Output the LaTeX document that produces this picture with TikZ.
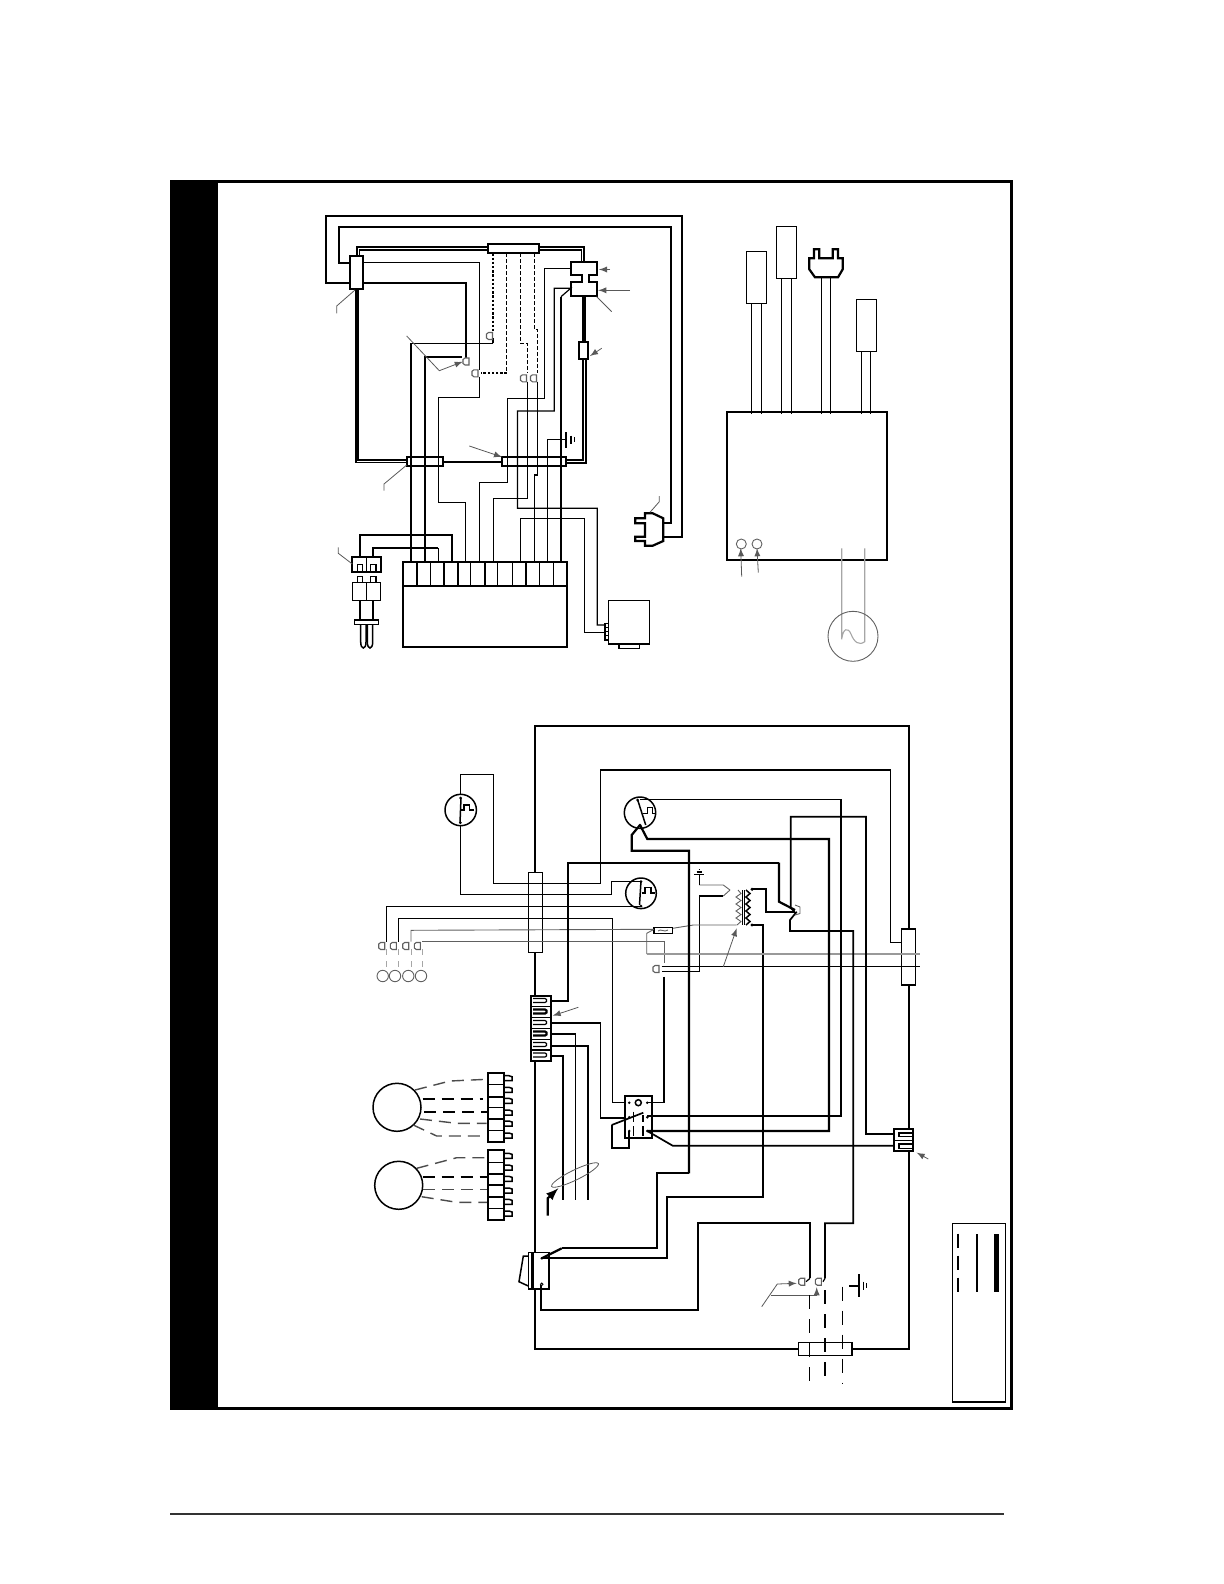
\documentclass[tikz,border=0pt]{standalone}
\usepackage{tikz}

\tikzset{
  wire/.style={line width=0.6pt},
  mwire/.style={line width=0.85pt},
  hwire/.style={line width=1.1pt},
  gwire/.style={line width=0.45pt, gray!75!black},
  lead/.style={line width=0.4pt, gray!70!black},
  dotwire/.style={line width=1.1pt, dash pattern=on 1.2pt off 0.9pt},
  thindash/.style={line width=0.6pt, dash pattern=on 1.8pt off 1.2pt},
  motordash/.style={line width=0.7pt, gray!60!black, dash pattern=on 6pt off 3.5pt},
  motorheavy/.style={line width=1.1pt, dash pattern=on 6pt off 3.5pt},
  longdash/.style={line width=0.75pt, dash pattern=on 7pt off 5pt},
  part/.style={line width=0.75pt},
  hpart/.style={line width=1.1pt}
}
\newcommand{\plugterm}[2]{\draw[gwire, line width=0.55pt] (#1+3,#2-3.5) -- (#1-1,#2-3.5) -- (#1-3,#2-2) -- (#1-3,#2+2) -- (#1-1,#2+3.5) -- (#1+3,#2+3.5) -- cycle;}
\newcommand{\slotcell}[2]{\draw[line width=#2] (533,#1) -- (545,#1) -- (546.5,#1+1) -- (546.5,#1+3) -- (545,#1+4) -- (533,#1+4);}
\newcommand{\tabcell}[1]{\draw[part] (504,#1-3) -- (509,#1-3) -- (512,#1-2) -- (512,#1+2) -- (504,#1+2);}

\begin{document}
\begin{tikzpicture}[x=0.5pt, y=-0.5pt]
\useasboundingbox (0,0) rectangle (1224,1584);

% Page frame and black side band
\fill (170,180) rectangle (217.7,1410);
\draw[line width=1.2pt] (217,181.5) -- (1011.5,181.5) -- (1011.5,1408.5) -- (170,1408.5);
\draw[line width=0.7pt, black!80] (170,1514) -- (1004,1514);

% Pictorial: outer loop to plug
\draw[mwire] (350,282.7) -- (326.3,282.7) -- (326.3,216) -- (682.3,216) -- (682.3,536.7) -- (663.3,536.7);
\draw[mwire] (350,262.7) -- (339.3,262.7) -- (339.3,227.3) -- (671,227.3) -- (671,522.7) -- (663.3,522.7);
\draw[hpart] (645,513.3) -- (652.7,513.3) -- (663.3,518.3) -- (663.3,541) -- (652.7,545.7) -- (645,545.7) -- (645,541) -- (635.3,541) -- (635.3,536.7) -- (645,536.7) -- (645,523.3) -- (635.3,523.3) -- (635.3,518.3) -- (645,518.3) -- cycle;
\draw[lead] (659.3,496) -- (659.3,501.7) -- (650,512.3);

% Pictorial: double loop round the cabinet
\draw[hwire] (356.7,255.7) -- (356.7,246.7) -- (488.3,246.7);
\draw[mwire] (359.5,255.7) -- (359.5,250) -- (488.3,250);
\draw[hwire] (538.7,246.7) -- (584,246.7) -- (584,261.7);
\draw[mwire] (538.7,250) -- (581.5,250) -- (581.5,261.7);
\draw[wire] (356,289.3) -- (356,462.7) -- (406.7,462.7);
\draw[hwire] (357.5,289.3) -- (357.5,460) -- (406.7,460);
\draw[hwire] (443.3,462.3) -- (502,462.3);
\draw[wire] (583,296) -- (583,341.7);
\draw[mwire] (585,296) -- (585,341.7);
\draw[wire] (583,359) -- (583,460) -- (566,460);
\draw[hwire] (586,359) -- (586,463.3) -- (566,463.3);

% Pictorial: plug boxes
\draw[hpart] (350,255.7) rectangle (363.3,289.3);
\draw[hpart, fill=white] (488.3,243.7) rectangle (538.7,253);
\draw[hpart] (406.7,457) rectangle (443.3,466);
\draw[hpart] (502,457) rectangle (566,466);
\draw[hpart] (578.7,341.7) rectangle (588.3,359);
\draw[hpart] (570.7,261.7) -- (597.3,261.7) -- (597.3,275.3) -- (588.7,275.3) -- (588.7,281.7) -- (596.7,281.7) -- (596.7,296) -- (570.7,296) -- (570.7,281.7) -- (581.7,281.7) -- (581.7,275.3) -- (570.7,275.3) -- cycle;

% Pictorial: wires on the panel
\draw[wire] (363.3,262.3) -- (479.3,262.3) -- (479.3,370);
\draw[hwire] (363.3,282.7) -- (465.7,282.7) -- (465.7,358);
\draw[hwire] (461.7,356.7) -- (425,356.7) -- (425,561.7);
\draw[hwire] (493.3,338) -- (493.3,343.3);
\draw[wire] (493.3,343.3) -- (411,343.3);
\draw[hwire] (411,343.3) -- (411,561.7);
\draw[wire] (479.3,376.7) -- (479.3,397.7) -- (438.5,397.7) -- (438.5,502.3) -- (465.7,502.3) -- (465.7,561.7);
\draw[dotwire] (493,253.3) -- (493,331.7);
\draw[thindash] (506.7,253.3) -- (506.7,373);
\draw[dotwire] (506.7,373) -- (481,373);
\draw[thindash] (520.3,253.3) -- (520.3,343.3) -- (527.7,343.3) -- (527.7,373.3);
\draw[thindash] (534.3,253.3) -- (534.3,329.3) -- (537.5,329.3) -- (537.5,373.3);
\draw[wire] (570.7,268.3) -- (544.3,268.3) -- (544.3,398.3) -- (507.5,398.3) -- (507.5,482.3) -- (479.3,482.3) -- (479.3,561.7);
\draw[wire] (561,296.7) -- (570.7,288.3) -- (554.3,288.3) -- (554.3,411) -- (517.5,411) -- (517.5,508.3) -- (597.3,508.3) -- (597.3,625) -- (605,625);
\draw[wire] (561,296.7) -- (561,561.7);
\draw[wire] (527.7,381.7) -- (527.7,498.3) -- (493.3,498.3) -- (493.3,561.7);
\draw[wire] (537.5,381.7) -- (537.5,475) -- (534.3,475) -- (534.3,561.7);
\draw[wire] (566,439.3) -- (547.3,439.3) -- (547.3,561.7);
\draw[wire] (566,432.3) -- (566,448.3);
\draw[wire] (571,435.7) -- (571,444.3);
\draw[wire] (574.3,437.3) -- (574.3,441.7);
\plugterm{489.5}{336}
\plugterm{466}{361.5}
\plugterm{475}{373.3}
\plugterm{523.5}{378.3}
\plugterm{533.5}{378.3}

% Pictorial: labels leaders
\draw[lead] (355,290) -- (336.7,306) -- (336.7,313.3);
\draw[lead, -latex] (406.7,336) -- (439.3,370.7) -- (462.7,361.7);
\draw[lead, -latex] (469.3,446) -- (502,457);
\draw[lead] (406.7,465) -- (384,484) -- (384,490.7);
\draw[lead, -latex] (610,269.5) -- (599,269.5);
\draw[lead, -latex] (630,290.3) -- (598.3,290.3);
\draw[lead] (596.7,296.7) -- (611.7,311.7);
\draw[lead, -latex] (601.7,348.3) -- (590,356);

% Pictorial: control board
\draw[hpart] (402.7,561.7) rectangle (567.3,646.7);
\draw[hpart] (402.7,585.7) -- (567.3,585.7);
\foreach \px in {416.7,444.3,458,485.3,526.3} \draw[hpart] (\px,561.7) -- (\px,585.7);
\foreach \px in {430.3,470.7,497.7,512.7,539.3,553.3} \draw[part] (\px,561.7) -- (\px,585.7);

% Pictorial: power cord
\draw[mwire] (360,557.3) -- (360,535) -- (452.3,535) -- (452.3,561.7);
\draw[hwire] (373.3,557.3) -- (373.3,548.3) -- (438.3,548.3);
\draw[wire] (438.3,548.3) -- (438.3,561.7);
\draw[hpart] (352.3,557.3) rectangle (380.7,572);
\draw[part] (366.7,557.3) -- (366.7,572);
\draw[part] (357.3,572) -- (357.3,564.7) -- (362.7,564.7) -- (362.7,572);
\draw[part] (370.7,572) -- (370.7,564.7) -- (376,564.7) -- (376,572);
\draw[part] (352.3,582.7) rectangle (380.7,600.7);
\draw[part] (366.7,582.7) -- (366.7,600.7);
\draw[part] (357.3,582.7) -- (357.3,576.7) -- (362.7,576.7) -- (362.7,582.7);
\draw[part] (370.7,582.7) -- (370.7,576.7) -- (376,576.7) -- (376,582.7);
\draw[mwire] (360,600.7) -- (360,620);
\draw[mwire] (373.3,600.7) -- (373.3,620);
\draw[part] (354.3,620) rectangle (378.3,624.3);
\draw[part] (360.7,624.3) -- (360.7,642) .. controls (360.7,650) and (366,650) .. (366,642) -- (366,624.3);
\draw[part] (367.3,624.3) -- (367.3,642) .. controls (367.3,650) and (372.7,650) .. (372.7,642) -- (372.7,624.3);
\draw[lead] (338.3,547.3) -- (338.3,553.3) -- (352.3,564);

% Pictorial: blower motor
\draw[wire] (520.7,561.7) -- (520.7,518.3) -- (584.3,518.3) -- (584.3,632.7) -- (605,632.7);
\draw[part] (608.3,600.7) rectangle (649.3,644);
\draw[part] (619,644) rectangle (639.3,648.3);
\draw[part] (605,623.3) rectangle (608.3,640);
\foreach \py in {627,631,635} \draw[line width=0.4pt] (605,\py) -- (608.3,\py);

% Ladder key: leads and boxes
\draw[part] (746.3,251.3) rectangle (766.3,303.3);
\draw[part] (776.3,226.3) rectangle (796.3,278.3);
\draw[part] (856.3,299.3) rectangle (876.3,351.3);
\draw[hpart] (814,249.3) -- (814,258.3) -- (809.3,258.3) -- (809.3,269.3) -- (815,277.3) -- (838,277.3) -- (842.7,269.3) -- (842.7,258.3) -- (838,258.3) -- (838,249.3) -- (832.7,249.3) -- (832.7,258.3) -- (819.3,258.3) -- (819.3,249.3) -- cycle;
\foreach \px/\py in {751.3/303.3,761.3/303.3,781.3/278.3,791.3/278.3,821.3/277.3,830.3/277.3,861.7/351.3,870.3/351.3}
  \draw[wire] (\px,\py) -- (\px,414);
\draw[hpart] (726.7,411.7) rectangle (887,560);
\draw[gwire] (741.3,544) circle (5);
\draw[gwire] (757,544) circle (5);
\draw[lead, -latex] (741.7,576.7) -- (740.7,548.3);
\draw[lead, -latex] (758.3,572.7) -- (757,548.3);
\draw[line width=0.55pt, gray!70] (841.7,548.3) -- (841.7,639.3) .. controls (843,628) and (848,627) .. (851,634) .. controls (854,642) and (859,646) .. (864.7,641.7) -- (864.7,548.3);
\draw[gwire] (853,636.3) circle (25);

% Ladder: outer power loop
\draw[hwire] (535,872.3) -- (535,726) -- (909,726) -- (909,929);
\draw[hwire] (909,985) -- (909,1129.3);
\draw[hwire] (909,1151) -- (909,1349) -- (852,1349);
\draw[hwire] (535,952.3) -- (535,995.7);
\draw[mwire] (535,1061) -- (535,1252);
\draw[mwire] (535,1289) -- (535,1349.3) -- (798.3,1349.3);
\draw[part] (528.3,872.3) rectangle (542.7,952.3);
\draw[part] (901.7,929) rectangle (915.7,985);
\draw[part] (798.3,1342.3) rectangle (852,1355.7);

% Ladder: pressure switches
\draw[wire] (901.7,942.3) -- (890.7,942.3) -- (890.7,770) -- (600.3,770) -- (600.3,883.3) -- (493.7,883.3) -- (493.7,774.3) -- (460.7,774.3) -- (460.7,795);
\draw[wire] (460.7,825) -- (460.7,894.3) -- (611.7,894.3) -- (611.7,881.7) -- (641,881.7);
\draw[part] (460.7,810) circle (15.7);
\draw[part] (461,798) -- (460,823);
\draw[part] (461,810) -- (464,810) -- (464,805) -- (469.3,805) -- (469.3,810) -- (474,810);
\fill (460.7,798) circle (1.5);
\fill (460.3,822.7) circle (1.5);
\draw[part] (640,812.7) circle (15.7);
\draw[part] (637.7,800) -- (645.7,825);
\draw[part] (643.3,813.3) -- (647.7,813.3) -- (647.7,807.3) -- (652.7,807.3) -- (652.7,813.3) -- (655,813.3);
\fill (637.7,800) circle (1.5);
\fill (640,825) circle (1.5);
\draw[part] (641,893.3) circle (15.3);
\draw[part] (641,881) -- (639.5,905);
\draw[part] (642,893) -- (645,893) -- (645,887.5) -- (651,887.5) -- (651,893) -- (655,893);
\fill (641,881.7) circle (1.5);
\fill (641,906) circle (1.5);

% Ladder: limit controls and wires to the terminals
\draw[wire] (641,906.5) -- (386.3,906.5) -- (386.3,941.7);
\draw[wire] (398.7,941.7) -- (398.7,918.3) -- (612.7,918.3) -- (612.7,1102.7) -- (625,1102.7);
\draw[gwire] (411,941.7) -- (411,930.3) -- (654,929.3);
\draw[gwire] (422.3,941.7) -- (664,941.7) -- (664,963.3);
\foreach \px/\qx in {381.7/386.3,393.3/398.7,405.7/411,417.3/422.3} {
  \plugterm{\px}{946}
  \draw[gray!70, line width=0.5pt, dashed] (\qx,949) -- (\qx,970);
}
\draw[gwire] (382.7,976) circle (5.7);
\draw[gwire] (395,976) circle (5.7);
\draw[gwire] (408.3,976) circle (5.7);
\draw[gwire] (421,976) circle (5.7);

% Ladder: transformer
\draw[part] (742.3,890) -- (742.3,925);
\draw[part] (744.7,890) -- (744.7,925);
\draw[part] (746,890) -- (750,893.5) -- (746,897) -- (750,900.5) -- (746,904) -- (750,907.5) -- (746,911) -- (750,914.5) -- (746,918) -- (750,921.5) -- (746,925);
\draw[gwire] (738,890) -- (741,893.5) -- (736,897) -- (741,900.5) -- (736,904) -- (741,907.5) -- (736,911) -- (741,914.5) -- (736,918) -- (741,921.5) -- (737,925);
\fill (752,889.3) circle (1.7);
\fill (752,925) circle (1.7);
\draw[hwire] (752,889.3) -- (766,889.3) -- (766,911.7) -- (795,911.7);
\draw[mwire] (752,925) -- (763.3,925) -- (763.3,1196.7) -- (666.7,1196.7) -- (666.7,1258.3) -- (541.7,1258.3);
\draw[gwire] (730,890) -- (723.3,885) -- (699.3,885);
\draw[wire] (699.3,885) -- (699.3,875);
\draw[wire] (694.3,874.3) -- (704,874.3);
\draw[wire] (696.7,872) -- (701.7,872);
\draw[wire] (698.7,869.7) -- (700,869.7);
\draw[gwire] (730,890) -- (723.3,896);
\draw[wire] (723.3,896) -- (699.3,896) -- (699.3,971.7) -- (662,971.7);
\draw[gwire] (736.7,925) -- (693.3,925) -- (672.7,928.3);
\draw[part] (654,927.3) rectangle (672.7,933.3);
\draw[gwire] (658,931) .. controls (661,928) and (664,933) .. (668,930);
\draw[gwire] (654,929.3) -- (646.7,933.3) -- (646.7,954);
\draw[line width=0.6pt, gray!80] (646.7,954) -- (920,954);
\draw[wire] (661.7,966.7) -- (920,966.7);
\draw[lead, -latex] (723.3,966.7) -- (736.7,928.3);
\plugterm{656}{969}
\draw[wire] (664,976.7) -- (664,1102.7) -- (647.3,1102.7);

% Ladder: high voltage wires
\draw[hwire] (551,1001) -- (567.7,1001) -- (567.7,862.7) -- (689,862.7);
\draw[mwire] (689,862.7) -- (779,862.7);
\draw[hwire] (779,862.7) -- (779,901.7) -- (795,910);
\draw[wire] (640,799.3) -- (841,799.3) -- (841,1116) -- (647.3,1116);
\draw[hwire] (640,825) -- (647.3,839) -- (829,839) -- (829,1131) -- (647.3,1131);
\draw[hwire] (640,825) -- (631.7,835) -- (631.7,850.7) -- (689,850.7) -- (689,1173.3);
\draw[mwire] (689,1173.3) -- (656.7,1173.3) -- (656.7,1248.3) -- (561.7,1248.3);
\draw[hwire] (561.7,1248.3) -- (541.7,1258.3);
\draw[mwire] (794,911) -- (790.7,908) -- (790.7,816.7) -- (866,816.7) -- (866,1134) -- (894,1134);
\draw[mwire] (796.7,911.7) -- (790,920) -- (790,931) -- (853.3,931) -- (853.3,1223.3) -- (825,1223.3) -- (825,1278.3);
\draw[gwire] (795,905) -- (800,907) -- (800,913.5) -- (795,915);

% Ladder: door switch relay
\draw[hpart] (625,1095.7) rectangle (652.3,1137.7);
\foreach \px in {629.3,647.3} {
  \fill (\px,1102.7) circle (1.4);
  \fill (\px,1117.3) circle (1.4);
  \fill (\px,1131) circle (1.4);
}
\draw[part] (638.3,1102.7) circle (3);
\draw[part] (633.3,1111.7) -- (633.3,1121.7);
\draw[hpart] (642.7,1115) -- (642.7,1121.7);
\draw[part] (633.3,1126) -- (633.3,1136);
\draw[hpart] (642.7,1126) -- (642.7,1136);
\draw[mwire] (611.7,1125) -- (643.3,1112.7);
\draw[hwire] (611.7,1125) -- (611.7,1148) -- (629.3,1148) -- (629.3,1131);
\draw[wire] (625,1118) -- (600.5,1118) -- (600.5,1022.7);
\draw[hwire] (600.5,1022.7) -- (550.7,1022.7);
\draw[mwire] (647.3,1131) -- (672.7,1145.7) -- (894,1145.7);

% Ladder: terminal strip
\draw[hpart] (531,995.7) rectangle (550.7,1061);
\slotcell{998.5}{0.6pt}
\slotcell{1009.5}{1.1pt}
\slotcell{1020.5}{0.6pt}
\slotcell{1031.5}{1.1pt}
\slotcell{1042.5}{0.6pt}
\slotcell{1053}{0.6pt}
\foreach \py in {1006.7,1017.7,1028.3,1039.3,1050} \draw[part] (531,\py) -- (550.7,\py);
\draw[wire] (550.7,1034) -- (575.7,1034) -- (575.7,1200);
\draw[hwire] (550.7,1045.7) -- (588.3,1045.7) -- (588.3,1200);
\draw[mwire] (550.7,1055.7) -- (563.3,1055.7) -- (563.3,1200);
\draw[lead] (575,1175) ellipse [x radius=26, y radius=5, rotate=26];
\draw[hwire, -latex] (547.7,1215.7) -- (547.7,1198.3) -- (558.3,1188.3);
\draw[lead, -latex] (578.3,1007.3) -- (552.7,1015.7);

% Ladder: right connector
\draw[hpart] (894,1129.3) rectangle (913.3,1151);
\draw[part] (894,1140.3) -- (913.3,1140.3);
\draw[part] (913.3,1133) -- (899,1133) -- (899,1136.7) -- (913.3,1136.7);
\draw[part] (913.3,1144) -- (899,1144) -- (899,1148.3) -- (913.3,1148.3);
\draw[lead, -latex] (928.3,1159) -- (916.7,1152.7);

% Ladder: blower and inducer motors
\draw[part] (397,1107.3) circle (24);
\draw[part] (398.7,1185.3) circle (24);
\draw[motordash] (415,1090) -- (450,1081) -- (486.7,1079.3);
\draw[motorheavy] (422.7,1099) -- (483.3,1099);
\draw[motorheavy] (424,1111.7) -- (489.3,1111.7);
\draw[motordash] (420,1119) -- (456.7,1123.3) -- (486.7,1123.3);
\draw[motordash] (413.3,1125) -- (436.7,1136) -- (486.7,1136);
\draw[motordash] (416.7,1168.3) -- (456.7,1157.7) -- (486.7,1157.7);
\draw[motorheavy] (422.7,1177) -- (487.3,1177);
\draw[motordash] (423.3,1189.3) -- (487.3,1189.3);
\draw[motordash] (421.7,1196.7) -- (456.7,1202.3) -- (487.3,1202.3);
\draw[hpart] (487.7,1072.7) rectangle (504,1142);
\foreach \py in {1084.7,1107.3,1130.3} \draw[part] (487.7,\py) -- (504,\py);
\foreach \py in {1096.7,1118.7} \draw[hpart] (487.7,\py) -- (504,\py);
\foreach \py in {1078.7,1090.3,1101.3,1113,1124,1136} {\tabcell{\py}}
\draw[hpart] (487.7,1150.3) rectangle (504,1220.3);
\foreach \py in {1162.3,1185,1208.3} \draw[part] (487.7,\py) -- (504,\py);
\foreach \py in {1173.7,1196.7} \draw[hpart] (487.7,\py) -- (504,\py);
\foreach \py in {1156.3,1168,1179.3,1191,1202.3,1214} {\tabcell{\py}}

% Ladder: burner switch
\draw[part] (528.3,1252.3) rectangle (549,1289);
\draw[line width=1.4pt] (532.3,1252.3) -- (532.3,1289);
\draw[part] (528.3,1256) -- (523.3,1256) -- (519,1281.7) -- (528.3,1286);
\fill (541.7,1258.3) circle (1.3);
\draw[line width=0.4pt, fill=white] (541.7,1284.3) circle (1.3);
\draw[mwire] (540.7,1285) -- (540.7,1310) -- (698.3,1310) -- (698.3,1223.3) -- (810,1223.3) -- (810,1278.3);

% Ladder: low voltage field wires and ground
\plugterm{801.7}{1281.7}
\plugterm{818.3}{1281.7}
\draw[wire] (810,1278.3) -- (806,1281.7);
\draw[wire] (825,1278.3) -- (823,1281.7);
\draw[lead, -latex] (761.7,1306.7) -- (777.3,1284) -- (796.7,1283.3);
\draw[lead] (770.7,1295.7) -- (816.7,1295.7);
\draw[lead, -latex] (816.7,1295.7) -- (816.7,1287.3);
\draw[longdash] (809.7,1295) -- (809.7,1383);
\draw[longdash] (825,1290) -- (825,1383);
\draw[line width=0.55pt, dash pattern=on 7pt off 5pt] (842.3,1286.7) -- (842.3,1383);
\draw[mwire] (849,1285.7) -- (859,1285.7);
\draw[mwire] (859,1274.3) -- (859,1296.7);
\draw[wire] (863.3,1281.7) -- (863.3,1290);
\draw[wire] (866.7,1283.3) -- (866.7,1288.3);

% Legend
\draw[wire] (952.3,1223.3) rectangle (1005.7,1402);
\draw[line width=0.8pt, dash pattern=on 7pt off 4pt] (958,1233.5) -- (958,1291.7);
\draw[line width=0.8pt] (977,1234) -- (977,1291.7);
\draw[line width=2.5pt] (996.7,1234) -- (996.7,1291.7);

\end{tikzpicture}
\end{document}
